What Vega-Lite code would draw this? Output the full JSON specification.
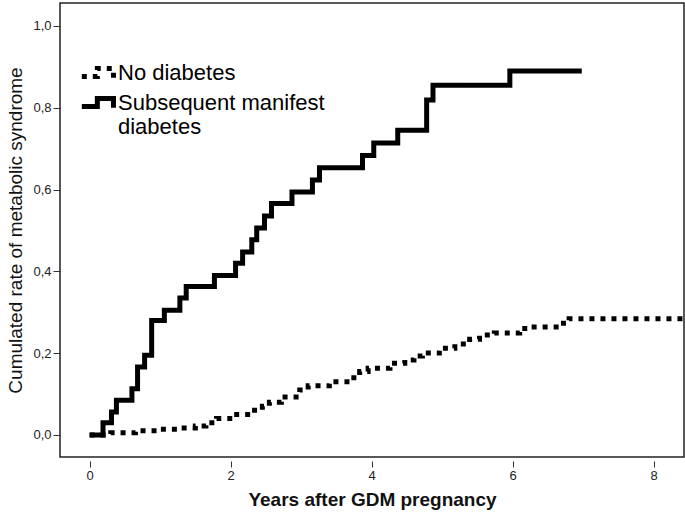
{
  "$schema": "https://vega.github.io/schema/vega-lite/v6.json",
  "width": 624,
  "height": 454,
  "autosize": {"type": "none"},
  "padding": {"left": 60, "top": 3, "right": 1, "bottom": 55},
  "background": "white",
  "config": {
    "view": {"stroke": "#222", "strokeWidth": 1.5},
    "font": "Liberation Sans"
  },
  "data": {
    "values": [
      {"group": "Subsequent manifest diabetes", "years": 0, "rate": 0},
      {"group": "Subsequent manifest diabetes", "years": 0.19, "rate": 0.03},
      {"group": "Subsequent manifest diabetes", "years": 0.31, "rate": 0.056},
      {"group": "Subsequent manifest diabetes", "years": 0.38, "rate": 0.085},
      {"group": "Subsequent manifest diabetes", "years": 0.6, "rate": 0.113},
      {"group": "Subsequent manifest diabetes", "years": 0.68, "rate": 0.166},
      {"group": "Subsequent manifest diabetes", "years": 0.78, "rate": 0.195},
      {"group": "Subsequent manifest diabetes", "years": 0.88, "rate": 0.28},
      {"group": "Subsequent manifest diabetes", "years": 1.06, "rate": 0.305},
      {"group": "Subsequent manifest diabetes", "years": 1.28, "rate": 0.335},
      {"group": "Subsequent manifest diabetes", "years": 1.37, "rate": 0.363},
      {"group": "Subsequent manifest diabetes", "years": 1.77, "rate": 0.39},
      {"group": "Subsequent manifest diabetes", "years": 2.07, "rate": 0.42},
      {"group": "Subsequent manifest diabetes", "years": 2.17, "rate": 0.447},
      {"group": "Subsequent manifest diabetes", "years": 2.3, "rate": 0.477},
      {"group": "Subsequent manifest diabetes", "years": 2.37, "rate": 0.506},
      {"group": "Subsequent manifest diabetes", "years": 2.48, "rate": 0.535},
      {"group": "Subsequent manifest diabetes", "years": 2.58, "rate": 0.566},
      {"group": "Subsequent manifest diabetes", "years": 2.87, "rate": 0.594},
      {"group": "Subsequent manifest diabetes", "years": 3.16, "rate": 0.623},
      {"group": "Subsequent manifest diabetes", "years": 3.26, "rate": 0.653},
      {"group": "Subsequent manifest diabetes", "years": 3.87, "rate": 0.683},
      {"group": "Subsequent manifest diabetes", "years": 4.03, "rate": 0.714},
      {"group": "Subsequent manifest diabetes", "years": 4.37, "rate": 0.745},
      {"group": "Subsequent manifest diabetes", "years": 4.78, "rate": 0.819},
      {"group": "Subsequent manifest diabetes", "years": 4.87, "rate": 0.855},
      {"group": "Subsequent manifest diabetes", "years": 5.96, "rate": 0.89},
      {"group": "Subsequent manifest diabetes", "years": 6.98, "rate": 0.89},
      {"group": "No diabetes", "years": 0, "rate": 0},
      {"group": "No diabetes", "years": 0.3, "rate": 0.005},
      {"group": "No diabetes", "years": 0.65, "rate": 0.01},
      {"group": "No diabetes", "years": 0.95, "rate": 0.014},
      {"group": "No diabetes", "years": 1.3, "rate": 0.017},
      {"group": "No diabetes", "years": 1.5, "rate": 0.022},
      {"group": "No diabetes", "years": 1.65, "rate": 0.03},
      {"group": "No diabetes", "years": 1.8, "rate": 0.04},
      {"group": "No diabetes", "years": 2.05, "rate": 0.05},
      {"group": "No diabetes", "years": 2.3, "rate": 0.06},
      {"group": "No diabetes", "years": 2.45, "rate": 0.07},
      {"group": "No diabetes", "years": 2.55, "rate": 0.08},
      {"group": "No diabetes", "years": 2.72, "rate": 0.093},
      {"group": "No diabetes", "years": 2.98, "rate": 0.11},
      {"group": "No diabetes", "years": 3.1, "rate": 0.12},
      {"group": "No diabetes", "years": 3.4, "rate": 0.13},
      {"group": "No diabetes", "years": 3.69, "rate": 0.14},
      {"group": "No diabetes", "years": 3.83, "rate": 0.155},
      {"group": "No diabetes", "years": 3.95, "rate": 0.163},
      {"group": "No diabetes", "years": 4.26, "rate": 0.175},
      {"group": "No diabetes", "years": 4.47, "rate": 0.183},
      {"group": "No diabetes", "years": 4.6, "rate": 0.193},
      {"group": "No diabetes", "years": 4.72, "rate": 0.2},
      {"group": "No diabetes", "years": 4.96, "rate": 0.212},
      {"group": "No diabetes", "years": 5.18, "rate": 0.222},
      {"group": "No diabetes", "years": 5.39, "rate": 0.234},
      {"group": "No diabetes", "years": 5.53, "rate": 0.244},
      {"group": "No diabetes", "years": 5.74, "rate": 0.249},
      {"group": "No diabetes", "years": 6.1, "rate": 0.26},
      {"group": "No diabetes", "years": 6.24, "rate": 0.264},
      {"group": "No diabetes", "years": 6.67, "rate": 0.273},
      {"group": "No diabetes", "years": 6.8, "rate": 0.284},
      {"group": "No diabetes", "years": 8.6, "rate": 0.284}
    ]
  },
  "mark": {"type": "line", "interpolate": "step-after", "color": "black", "strokeWidth": 5, "clip": true, "strokeCap": "butt"},
  "encoding": {
    "x": {
      "field": "years", "type": "quantitative",
      "scale": {"domain": [-0.42, 8.43], "nice": false, "zero": false},
      "axis": {
        "values": [0, 2, 4, 6, 8], "format": "d", "grid": false, "domain": false,
        "offset": 4, "tickSize": 6, "tickColor": "#333",
        "labelFontSize": 13, "labelColor": "#222", "labelPadding": 2,
        "title": "Years after GDM pregnancy", "titleFontSize": 19, "titleFontWeight": "bold",
        "titleColor": "#111", "titlePadding": 8
      }
    },
    "y": {
      "field": "rate", "type": "quantitative",
      "scale": {"domain": [-0.054, 1.056], "nice": false, "zero": false},
      "axis": {
        "values": [0, 0.2, 0.4, 0.6, 0.8, 1],
        "labelExpr": "replace(format(datum.value, '.1f'), '.', ',')",
        "grid": false, "domain": false, "tickSize": 7, "tickColor": "#333",
        "labelFontSize": 13, "labelColor": "#222", "labelPadding": 2,
        "title": "Cumulated rate of metabolic syndrome", "titleFontSize": 19, "titleFontWeight": "normal",
        "titleColor": "#111", "titlePadding": 7
      }
    },
    "strokeDash": {
      "field": "group", "type": "nominal",
      "scale": {"domain": ["No diabetes", "Subsequent manifest diabetes"], "range": [[5, 6], [1, 0]]},
      "legend": {
        "orient": "none", "legendX": 24, "legendY": 55, "title": null,
        "symbolType": "M-1.45,0.35H-0.1V-0.35H1.3V0.45",
        "symbolSize": 530, "symbolStrokeWidth": 5, "symbolStrokeColor": "black", "symbolFillColor": "transparent",
        "labelFontSize": 22, "labelColor": "black", "labelFont": "Liberation Sans", "labelLimit": 400,
        "labelOffset": 5, "rowPadding": 0,
        "labelExpr": "datum.label == 'Subsequent manifest diabetes' ? ['Subsequent manifest', 'diabetes'] : datum.label"
      }
    }
  }
}
